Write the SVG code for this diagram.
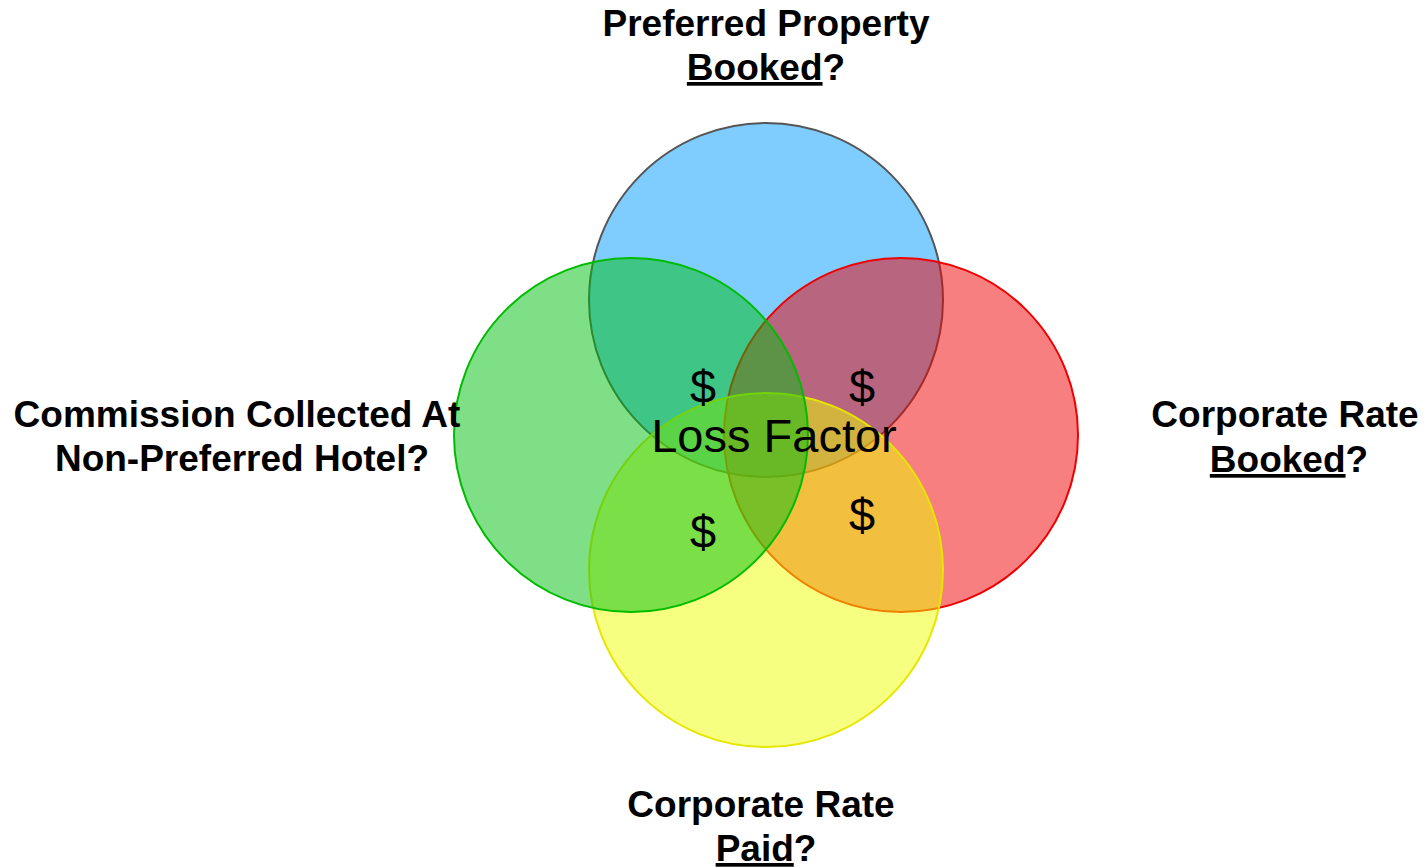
<svg xmlns="http://www.w3.org/2000/svg" width="1425" height="868" viewBox="0 0 1425 868">
<style>
.c{fill-opacity:0.5;stroke-width:2}
.t{font-family:"Liberation Sans",Arial,sans-serif;font-weight:bold;font-size:37px;fill:#000;text-anchor:middle}
.d{font-family:"Liberation Sans",Arial,sans-serif;font-size:47px;fill:#000;text-anchor:middle}
</style>
<rect width="1425" height="868" fill="#fff"/>
<g id="circles">
<circle id="blue" class="c" cx="766" cy="300" r="177" fill="#0099ff" stroke="#555"/>
<circle id="red" class="c" cx="901" cy="435" r="177" fill="#f20000" stroke="#ee0000"/>
<circle id="yellow" class="c" cx="766" cy="570" r="177" fill="#eeff00" stroke="#e6e600"/>
<circle id="green" class="c" cx="631" cy="435" r="177" fill="#00bf0f" stroke="#00bb00"/>
</g>
<g id="label-top">
<text class="t" x="766" y="36">Preferred Property</text>
<text class="t" x="766" y="80"><tspan text-decoration="underline">Booked</tspan>?</text>
</g>
<g id="label-left">
<text class="t" x="237" y="427">Commission Collected At</text>
<text class="t" x="242" y="471">Non-Preferred Hotel?</text>
</g>
<g id="label-right">
<text class="t" x="1285" y="427">Corporate Rate</text>
<text class="t" x="1289" y="472"><tspan text-decoration="underline">Booked</tspan>?</text>
</g>
<g id="label-bottom">
<text class="t" x="761" y="817">Corporate Rate</text>
<text class="t" x="766" y="861"><tspan text-decoration="underline">Paid</tspan>?</text>
</g>
<g id="center">
<text class="d" x="703" y="403">$</text>
<text class="d" x="862" y="403">$</text>
<text class="d" x="703" y="548">$</text>
<text class="d" x="862" y="531">$</text>
<text class="d" x="774" y="452">Loss Factor</text>
</g>
</svg>
